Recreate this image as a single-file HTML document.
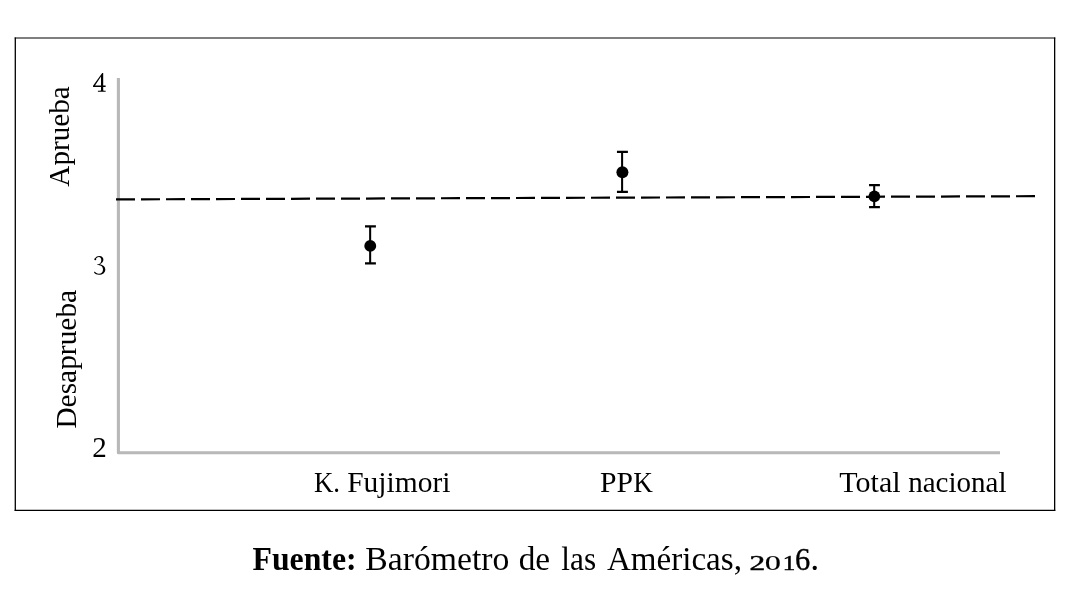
<!DOCTYPE html>
<html>
<head>
<meta charset="utf-8">
<style>
html,body{margin:0;padding:0;background:#fff;width:1070px;height:590px;overflow:hidden;}
svg{display:block;filter:grayscale(1);}
text{font-family:"Liberation Serif",serif;fill:#000;}
</style>
</head>
<body>
<svg width="1070" height="590" viewBox="0 0 1070 590">
<g stroke="#000" fill="none"><line x1="14.65" y1="38.0" x2="1055.3" y2="38.0" stroke-width="1.1"/><line x1="15.3" y1="37.45" x2="15.3" y2="510.95" stroke-width="1.3"/><line x1="14.65" y1="510.3" x2="1055.3" y2="510.3" stroke-width="1.3"/><line x1="1054.65" y1="37.45" x2="1054.65" y2="510.95" stroke-width="1.3"/></g>
<path d="M118.4 78V452.8H1000" fill="none" stroke="#b8b8b8" stroke-width="3.1" stroke-linejoin="round"/>
<line x1="116" y1="199.4" x2="1035" y2="196.2" stroke="#000" stroke-width="2.2" stroke-dasharray="19 6"/>
<g stroke="#000" fill="none"><path d="M370.15 226.35V263.35" stroke-width="2.05"/><path d="M365.0 226.35H375.9M365.0 263.35H375.9" stroke-width="2.2"/><path d="M622.1 151.9V191.95" stroke-width="2.05"/><path d="M616.95 151.9H627.9M616.95 191.95H627.9" stroke-width="2.2"/><path d="M874.2 185.05V207.1" stroke-width="2.05"/><path d="M869.05 185.05H879.9M869.05 207.1H879.9" stroke-width="2.2"/></g><g fill="#000"><circle cx="370.25" cy="245.9" r="5.95"/><circle cx="622.4" cy="172.2" r="6.0"/><circle cx="874.35" cy="196.4" r="5.85"/></g>
<g>
<path fill="#000" fill-rule="evenodd" d="M102.2 73.05L103.2 73.05L103.2 85.45L105.65 85.45L105.65 86.9L103.2 86.9L103.2 90.4Q104.5 90.6 105.65 90.8L105.65 91.75L97.9 91.75L97.9 90.8Q99.6 90.6 101.0 90.4L101.0 86.9L93.05 86.9L93.05 85.85ZM101.0 76.5L101.0 85.45L95.0 85.45Z"/><path fill="#000" d="M94.6 259.4C95.2 257.2 97.2 256.0 99.4 256.0C102.2 256.0 103.4 257.8 103.4 259.8C103.4 262.0 101.6 263.6 99.6 264.3C103.0 264.8 105.3 266.8 105.3 269.4C105.3 272.6 102.6 274.8 99.0 274.8C96.8 274.8 95.0 274.0 94.0 272.6L94.6 271.6C95.6 272.8 97.0 273.8 98.8 273.8C101.6 273.8 103.0 271.8 103.0 269.4C103.0 266.8 101.2 265.2 98.4 265.0L97.4 265.0L97.4 264.2L98.4 264.2C100.3 263.8 101.3 262.0 101.3 260.0C101.3 258.2 100.4 256.9 98.9 256.9C97.4 256.9 96.2 257.8 95.6 259.4Z"/><circle cx="95.3" cy="259.3" r="0.95" fill="#000"/>
<text x="92.37" y="457.00" font-size="29" textLength="14.50" lengthAdjust="spacingAndGlyphs">2</text>
<text transform="translate(68.60 186.65) rotate(-90)" font-size="29" textLength="100.35" lengthAdjust="spacingAndGlyphs">Aprueba</text>
<text transform="translate(75.60 428.62) rotate(-90)" font-size="29" textLength="138.75" lengthAdjust="spacingAndGlyphs">Desaprueba</text>
<text x="313.97" y="492.00" font-size="29" textLength="26.10" lengthAdjust="spacingAndGlyphs">K.</text>
<text x="347.20" y="492.00" font-size="29" textLength="103.24" lengthAdjust="spacingAndGlyphs">Fujimori</text>
<text x="600.04" y="492.00" font-size="29" textLength="32.95" lengthAdjust="spacingAndGlyphs">PP</text>
<text x="633.35" y="492.00" font-size="29" textLength="19.63" lengthAdjust="spacingAndGlyphs">K</text>
<text x="839.38" y="492.00" font-size="29" textLength="61.26" lengthAdjust="spacingAndGlyphs">Total</text>
<text x="908.14" y="492.00" font-size="29" textLength="98.33" lengthAdjust="spacingAndGlyphs">nacional</text>
<text x="252.52" y="570.00" font-size="33" textLength="104.10" lengthAdjust="spacingAndGlyphs" font-weight="bold">Fuente:</text>
<text x="365.32" y="570.00" font-size="33" textLength="143.98" lengthAdjust="spacingAndGlyphs">Bar&#xF3;metro</text>
<text x="518.67" y="570.00" font-size="33" textLength="31.41" lengthAdjust="spacingAndGlyphs">de</text>
<text x="561.34" y="570.00" font-size="33" textLength="34.73" lengthAdjust="spacingAndGlyphs">las</text>
<text x="606.96" y="570.00" font-size="33" textLength="134.99" lengthAdjust="spacingAndGlyphs">Am&#xE9;ricas,</text>
<text transform="translate(749.50 570.00) scale(1.45 1)" font-size="21.6" stroke="#000" stroke-width="0.5">2</text>
<text transform="translate(764.70 570.00) scale(1.5 1)" font-size="21.6" stroke="#000" stroke-width="0.15">0</text>
<text transform="translate(782.80 570.00) scale(1.16 1)" font-size="21.6" stroke="#000" stroke-width="0.5">1</text>
<text transform="translate(795.10 570.00) scale(1 1)" font-size="30.5" stroke="#000" stroke-width="0.35">6</text>
<text transform="translate(810.30 570.00) scale(1 1)" font-size="36">.</text>
</g>
</svg>
</body>
</html>
